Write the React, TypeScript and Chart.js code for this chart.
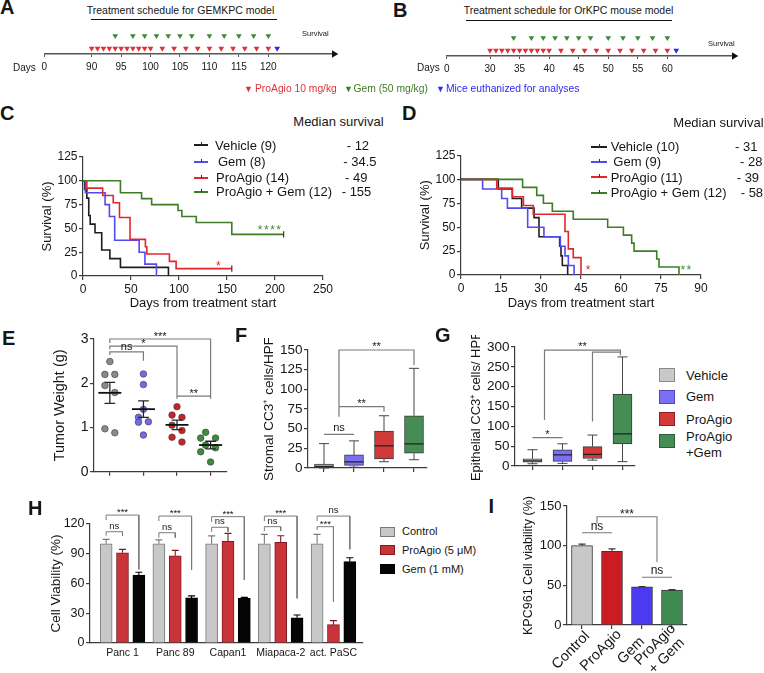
import React, { useEffect, useRef } from 'react';
import { Chart, registerables } from 'chart.js';

Chart.register(...registerables);

const FONT = "'Liberation Sans', Arial, Helvetica, sans-serif";
const INK = '#161616';
const AXIS = '#3c3c3c';
const BRACKET = '#7a7a7a';

// ===== A & B: treatment schedules =====
const A_TICK_DAYS = [0, 90, 95, 100, 105, 110, 115, 120];
const A_PROAGIO_DAYS = [90, 91, 92, 93, 94, 95, 96, 97, 98, 99, 100, 102, 104, 106, 108, 110, 112, 114, 116, 118, 120];
const A_GEM_DAYS = [94, 97, 99, 101, 103, 105, 107, 110, 112.5, 115, 117.5, 120];
const A_EUTH_DAYS = [121.5];
const B_TICK_DAYS = [0, 30, 35, 40, 45, 50, 55, 60];
const B_PROAGIO_DAYS = [30, 31, 32, 33, 34, 35, 36, 37, 38, 39, 40, 42, 44, 46, 48, 50, 52, 54, 56, 58, 60];
const B_GEM_DAYS = [34, 37, 39, 41, 43, 45, 47, 50, 52.5, 55, 57.5, 60];
const B_EUTH_DAYS = [61.5];

// ===== C: GEMKPC survival =====
const C_VEHICLE_DAYS = [0, 1.7, 4, 6, 7.5, 12.5, 19.5, 28, 39, 89];
const C_VEHICLE_SURV = [100, 90.9, 81.8, 63.6, 54.5, 45.5, 27.3, 18.2, 9.1, 0];
const C_GEM_DAYS = [0, 2.5, 23, 27.5, 33, 58.5, 64.5, 76.5];
const C_GEM_SURV = [100, 87.5, 75, 62.5, 37.5, 25, 12.5, 0];
const C_PROAGIO_DAYS = [0, 4, 20.5, 31.5, 38, 49, 65, 66.5, 90, 97, 155];
const C_PROAGIO_SURV = [100, 92.3, 84.6, 76.9, 61.5, 38.5, 30.8, 23.1, 15.4, 7.7, 7.7];
const C_COMBO_DAYS = [0, 39, 61, 71.5, 99, 103, 118, 155, 209];
const C_COMBO_SURV = [100, 87.5, 81.25, 75, 68.75, 62.5, 56.25, 43.75, 43.75];
const C_LEGEND = ['Vehicle (9)', 'Gem (8)', 'ProAgio (14)', 'ProAgio + Gem (12)'];
const C_MEDIANS = ['- 12', '- 34.5', '- 49', '- 155'];

// ===== D: OrKPC survival =====
const D_VEHICLE_DAYS = [0, 14, 19.25, 22.75, 27.4, 29.25, 37, 37.5, 38, 40];
const D_VEHICLE_SURV = [100, 90, 80, 70, 60, 40, 30, 20, 10, 0];
const D_GEM_DAYS = [0, 8.1, 15.25, 17.4, 25, 31.1, 37.25, 39, 40.25, 42.4];
const D_GEM_SURV = [100, 90, 80, 70, 50, 40, 30, 20, 10, 0];
const D_PROAGIO_DAYS = [0, 13.4, 19.25, 23.4, 27.1, 39, 40.25, 42.1, 45];
const D_PROAGIO_SURV = [100, 90.9, 81.8, 72.7, 63.6, 45.5, 27.3, 18.2, 0];
const D_COMBO_DAYS = [0, 23.1, 28.4, 30.9, 34.25, 42.1, 55, 60.9, 64, 64.9, 73.4, 74.25, 81.75];
const D_COMBO_SURV = [100, 91.7, 83.3, 75, 66.7, 58.3, 50, 41.7, 33.3, 25, 16.7, 8.3, 0];
const D_LEGEND = ['Vehicle (10)', 'Gem (9)', 'ProAgio (11)', 'ProAgio + Gem (12)'];
const D_MEDIANS = ['- 31', '- 28', '- 39', '- 58'];

// ===== E: tumor weight =====
const E_VEHICLE = [2.49, 2.2, 2.2, 1.95, 1.79, 0.97, 0.88];
const E_GEM = [2.21, 1.97, 1.41, 1.23, 1.13, 1.12, 0.83];
const E_PROAGIO = [1.47, 1.28, 1.23, 1.05, 0.93, 0.78, 0.67];
const E_COMBO = [0.89, 0.76, 0.76, 0.6, 0.54, 0.45, 0.22];
const E_BRACKETS = [
  { from: 0, to: 3, top: 3.0, armFrom: 2.91, armTo: 1.7, text: '***' },
  { from: 0, to: 2, top: 2.84, armFrom: 2.77, armTo: 1.68, text: '*' },
  { from: 0, to: 1, top: 2.71, armFrom: 2.64, armTo: 2.51, text: 'ns' },
  { from: 2, to: 3, top: 1.71, armFrom: 1.65, armTo: 1.65, text: '**' },
];

// ===== F & G: box plots =====
const BOX_GROUPS = ['Vehicle', 'Gem', 'ProAgio', 'ProAgio +Gem'];
const F_MIN = [0, 1, 8, 10.5];
const F_Q1 = [1.3, 3.4, 11.5, 18.7];
const F_MEDIAN = [2.1, 7.7, 28, 30.6];
const F_Q3 = [5.1, 16.6, 46.8, 66.4];
const F_MAX = [31, 34.5, 66.4, 126.7];
const F_BRACKETS = [
  { from: 0, to: 1, top: 42.8, armFrom: 42.8, armTo: 42.8, text: 'ns' },
  { from: 0.5, to: 2, top: 78, armFrom: 65, armTo: 71.6, text: '**' },
  { from: 0.5, to: 3, top: 150, armFrom: 65, armTo: 131, text: '**' },
];
const G_MIN = [5.7, 6.6, 14.8, 11];
const G_Q1 = [9.8, 11.5, 19, 55.7];
const G_MEDIAN = [13, 27.9, 29.5, 81];
const G_Q3 = [18, 41, 49, 181];
const G_MAX = [41, 56, 78, 275];
const G_BRACKETS = [
  { from: 0, to: 1, top: 71.4, armFrom: 71.4, armTo: 71.4, text: '*' },
  { from: 0.4, to: 2.93, top: 292, armFrom: 116, armTo: 282, text: '**' },
  { from: 2, to: 2.93, top: 287, armFrom: 112, armTo: 279, text: '' },
];

// ===== H: cell viability =====
const H_CELL_LINES = ['Panc 1', 'Panc 89', 'Capan1', 'Miapaca-2', 'act. PaSC'];
const H_CONTROL = [100, 100, 100, 100, 100];
const H_CONTROL_ERR = [4.5, 4, 8, 9.5, 9.5];
const H_PROAGIO = [91, 88, 102.5, 101.5, 18.5];
const H_PROAGIO_ERR = [3.4, 5.4, 8, 6.6, 4.1];
const H_GEM = [68.5, 45.5, 45, 25.5, 82];
const H_GEM_ERR = [2.9, 2, 1, 2.8, 4];
const H_SERIES = ['Control', 'ProAgio (5 μM)', 'Gem (1 mM)'];
const H_BRACKETS = [
  { g: 0, a: 0, b: 2, top: 129, armA: 124, armB: 74.3, text: '***' },
  { g: 0, a: 0, b: 1, top: 112.2, armA: 108.2, armB: 108.2, text: 'ns' },
  { g: 1, a: 0, b: 2, top: 128, armA: 123, armB: 73.6, text: '***' },
  { g: 1, a: 0, b: 1, top: 111.2, armA: 106.2, armB: 106.2, text: 'ns' },
  { g: 2, a: 0, b: 2, top: 127.4, armA: 122, armB: 63.5, text: '***' },
  { g: 2, a: 0, b: 1, top: 116.7, armA: 112.2, armB: 112.2, text: 'ns' },
  { g: 3, a: 0, b: 2, top: 128, armA: 123, armB: 45, text: '***' },
  { g: 3, a: 0, b: 1, top: 117.3, armA: 112.9, armB: 112.9, text: 'ns' },
  { g: 4, a: 0, b: 2, top: 128, armA: 123, armB: 94.5, text: 'ns' },
  { g: 4, a: 0, b: 1, top: 117.3, armA: 114, armB: 41.7, text: '***' },
];

// ===== I: KPC961 viability =====
const I_GROUPS = ['Control', 'ProAgio', 'Gem', ['ProAgio', '+ Gem']];
const I_VALUES = [100, 93, 48, 44];
const I_ERR = [2, 3, 0.6, 0.6];
const I_BRACKETS = [
  { from: 0, to: 1, top: 116.3, armFrom: 116.3, armTo: 116.3, text: 'ns' },
  { from: 0.5, to: 2.5, top: 136.5, armFrom: 128, armTo: 79, text: '***' },
  { from: 2, to: 3, top: 60.1, armFrom: 60.1, armTo: 60.1, text: 'ns' },
];

// ===== colours =====
const C_VEH = '#1e1e1e';
const C_GEMC = '#5549f2';
const C_PRO = '#e0282c';
const C_COMB = '#3e7d25';
const BOX_COLORS = ['#c9c9c9', '#7b70f4', '#d23a3a', '#458c55'];
const E_COLORS = ['#8a8a8a', '#726ae8', '#c8232b', '#3c8c3c'];
const H_COLORS = ['#c8c8c8', '#c9343a', '#050505'];
const H_BORDERS = ['#7a7a7a', '#7e1a1e', '#000000'];
const I_COLORS = ['#c8c8c8', '#cc1b22', '#4b3af0', '#3e8a50'];

type Box = { l: number; t: number; r: number; b: number };

const BASE = {
  responsive: false,
  animation: false,
  devicePixelRatio: 1,
  events: [],
  plugins: { legend: { display: false }, tooltip: { enabled: false } },
};

const fnt = (size: number, weight: any = 'normal') => ({ family: FONT, size, weight, lineHeight: 1.2 });

function padFor(box: Box, plot: Box, yW: number, xH: number) {
  return { left: plot.l - box.l - yW, top: plot.t - box.t, right: box.r - plot.r, bottom: box.b - plot.b - xH };
}

function valueAxis(o: any) {
  return {
    type: 'linear', position: 'left', min: o.min, max: o.max, bounds: 'data',
    ticks: { stepSize: o.step, font: fnt(o.size), color: INK, padding: o.pad ?? 1.5, autoSkip: false, maxRotation: 0 },
    grid: { drawOnChartArea: false, drawTicks: true, tickLength: 4, color: AXIS, lineWidth: 1.2, offset: false },
    border: { display: true, color: AXIS, width: 1.2 },
    title: { display: !!o.title, text: o.title, font: fnt(o.titleSize ?? 13), color: INK, padding: 0 },
    afterFit: (s: any) => { s.width = o.width; },
  };
}

function catAxis(o: any) {
  return {
    type: 'linear', position: 'bottom', min: o.min, max: o.max, bounds: 'data', offset: false,
    afterBuildTicks: (s: any) => { s.ticks = o.positions.map((v: number) => ({ value: v })); },
    ticks: {
      display: !!o.labels, callback: (_v: any, i: number) => (o.labels ? o.labels[i] : ''),
      font: fnt(o.size ?? 12), color: INK, padding: o.pad ?? 3, autoSkip: false,
      minRotation: 0, maxRotation: 0,
    },
    grid: { drawOnChartArea: false, drawTicks: (o.tickLen ?? 4) > 0, tickLength: o.tickLen ?? 4, color: AXIS, lineWidth: 1.2, offset: false },
    border: { display: true, color: AXIS, width: 1.2 },
    afterFit: (s: any) => { s.height = o.height; },
  };
}

function polyDataset(polys: number[][][], color: string, width: number, order = 0) {
  const data: any[] = [];
  polys.forEach((p, i) => {
    if (i) data.push({ x: p[0][0], y: null });
    p.forEach(([x, y]) => data.push({ x, y }));
  });
  return {
    type: 'line', data, borderColor: color, borderWidth: width, pointRadius: 0, fill: false,
    spanGaps: false, clip: false, order, tension: 0, showLine: true,
  };
}

const bracketPoly = (x1: number, x2: number, top: number, a1: number, a2: number) => [[x1, a1], [x1, top], [x2, top], [x2, a2]];

type Lbl = { x: number; y: number; text: string; color?: string; size?: number; off?: number; spacing?: number };
function labelPlugin(items: Lbl[]) {
  return {
    id: 'lbl',
    afterDatasetsDraw(chart: any) {
      const { ctx } = chart;
      const xs = chart.scales.x;
      const ys = chart.scales.y;
      items.forEach((it) => {
        if (!it.text) return;
        const size = it.size ?? 11;
        ctx.save();
        ctx.font = `${size}px ${FONT}`;
        ctx.fillStyle = it.color ?? INK;
        ctx.textAlign = 'center';
        ctx.textBaseline = 'alphabetic';
        if (it.spacing) (ctx as any).letterSpacing = `${it.spacing}px`;
        const k = it.text.includes('*') ? 0.57 : 0.26;
        ctx.fillText(it.text, xs.getPixelForValue(it.x), ys.getPixelForValue(it.y) + (it.off ?? 0) + k * size);
        ctx.restore();
      });
    },
  };
}

// rotated, centred category labels (panel I)
function rotatedLabelPlugin(labels: any[], size: number, dx: number, dy: number) {
  return {
    id: 'rotlbl',
    afterDraw(chart: any) {
      const { ctx } = chart;
      const xs = chart.scales.x;
      const y0 = chart.chartArea.bottom;
      const lh = size * 1.12;
      labels.forEach((lab, i) => {
        const lines = Array.isArray(lab) ? lab : [lab];
        ctx.save();
        ctx.translate(xs.getPixelForValue(i) + dx, y0 + dy);
        ctx.rotate(-Math.PI / 4);
        ctx.font = `${size}px ${FONT}`;
        ctx.fillStyle = INK;
        ctx.textAlign = 'center';
        ctx.textBaseline = 'middle';
        lines.forEach((t: string, j: number) => ctx.fillText(t, 0, (j - (lines.length - 1) / 2) * lh));
        ctx.restore();
      });
    },
  };
}

function bracketLabels(brs: any[], size: number, off: number, color = INK): Lbl[] {
  return brs.map((b) => ({ x: (b.from + b.to) / 2, y: b.top, text: b.text, size, off, color }));
}

// ---------- A/B timeline ----------
const ROW_PROAGIO = 0.19;
const ROW_GEM = 0.61;
function timelineConfig(o: any) {
  const xH = 24;
  const top = o.axisY - 30;
  const padding = { left: o.plotL - o.box.l, top: top - o.box.t, right: o.box.r - o.plotR, bottom: o.box.b - o.axisY - xH };
  const pos = (d: number) => (d === 0 ? o.zeroAt : d);
  const tri = (days: number[], row: number, color: string) => ({
    type: 'scatter', data: days.map((d) => ({ x: pos(d), y: row })), pointStyle: 'triangle', rotation: 180,
    pointRadius: 3.3, backgroundColor: color, borderColor: color, borderWidth: 0, clip: false,
  });
  return {
    type: 'scatter',
    data: {
      datasets: [
        tri(o.proagio, ROW_PROAGIO, '#dd3238'),
        tri(o.gem, ROW_GEM, '#3f8a3a'),
        tri(o.euth, ROW_PROAGIO, '#2a2af0'),
        { type: 'scatter', data: [{ x: o.arrowAt, y: 0 }], pointStyle: 'triangle', rotation: 90, pointRadius: 4.2, backgroundColor: '#111', borderWidth: 0, clip: false },
      ],
    },
    options: {
      ...BASE,
      layout: { padding },
      scales: {
        x: {
          type: 'linear', min: o.zeroAt, max: o.max, bounds: 'data',
          afterBuildTicks: (s: any) => { s.ticks = o.ticks.map((d: number) => ({ value: pos(d) })); },
          ticks: { callback: (_v: any, i: number) => String(o.ticks[i]), font: fnt(10), color: INK, padding: 4, autoSkip: false, maxRotation: 0, minRotation: 0 },
          grid: { drawOnChartArea: false, drawTicks: true, tickLength: 3, color: '#555', lineWidth: 1 },
          border: { display: true, color: '#555', width: 1.5 },
          afterFit: (s: any) => { s.height = xH; },
        },
        y: { display: false, min: 0, max: 1 },
      },
    },
  };
}

// ---------- survival ----------
function survivalConfig(o: any) {
  const yW = o.plot.l - o.yTitleX + 0.6 * 13;
  const xH = o.xTitleY - o.plot.b + 0.6 * 13;
  return {
    type: 'line',
    data: {
      datasets: [
        ...o.series.map((s: any, k: number) => ({
          data: s.days.map((d: number, i: number) => ({ x: d, y: s.surv[i] })),
          borderColor: s.color, borderWidth: 1.6, stepped: 'before', pointRadius: 0, fill: false, clip: false, order: 4 - k,
        })),
        {
          type: 'scatter', data: o.censor, pointStyle: 'line', rotation: 90, pointRadius: 3.2,
          borderColor: '#333', borderWidth: 1.2, clip: false, order: 0,
        },
      ],
    },
    options: {
      ...BASE,
      layout: { padding: padFor(o.box, o.plot, yW, xH) },
      scales: {
        x: {
          type: 'linear', position: 'bottom', min: 0, max: o.xMax, bounds: 'data',
          ticks: { stepSize: o.xStep, font: fnt(12), color: INK, padding: 2, autoSkip: false, maxRotation: 0 },
          grid: { drawOnChartArea: false, drawTicks: true, tickLength: 4, color: AXIS, lineWidth: 1.2 },
          border: { display: true, color: AXIS, width: 1.2 },
          title: { display: true, text: 'Days from treatment start', font: fnt(13), color: INK, padding: 0 },
          afterFit: (s: any) => { s.height = xH; },
        },
        y: valueAxis({ min: 0, max: 125, step: 25, size: 12, width: yW, title: 'Survival (%)', titleSize: 13 }),
      },
    },
    plugins: [labelPlugin(o.stars)],
  };
}

// ---------- E ----------
function swarmOffsets(values: number[], pxPerY: number, step: number, minDist: number): number[] {
  const idx = values.map((_, i) => i).sort((a, b) => values[b] - values[a]);
  const out = new Array(values.length).fill(0);
  const placed: { x: number; y: number }[] = [];
  let k = 0;
  while (k < idx.length) {
    let e = k;
    while (e + 1 < idx.length && (values[idx[e]] - values[idx[e + 1]]) * pxPerY < 8) e++;
    const cluster = idx.slice(k, e + 1);
    for (const i of cluster) {
      const y = values[i] * pxPerY;
      const cands = cluster.length === 1 ? [0, -step, step, -2 * step, 2 * step] : [-step, step, 0, -2 * step, 2 * step];
      let best = cands[0];
      for (const c of cands) {
        if (placed.every((p) => Math.hypot(p.x - c, p.y - y) >= minDist)) { best = c; break; }
      }
      out[i] = best;
      placed.push({ x: best, y });
    }
    k = e + 1;
  }
  return out;
}

function buildE() {
  const box = { l: 40, t: 320, r: 240, b: 485 };
  const plot = { l: 94, t: 339, r: 228, b: 473 };
  const xMin = -0.472, xMax = 3.48;
  const pxX = (plot.r - plot.l) / (xMax - xMin);
  const pxY = (plot.b - plot.t) / 3;
  const yW = plot.l - 60 + 0.6 * 14.5;
  const xH = 12;
  const groups = [E_VEHICLE, E_GEM, E_PROAGIO, E_COMBO];
  const datasets: any[] = [];
  const semPolys: number[][][] = [];
  const means: any[] = [];
  const cap = 5.4 / pxX;
  groups.forEach((vals, g) => {
    const offs = swarmOffsets(vals, pxY, 5, 7.5);
    datasets.push({
      type: 'scatter', data: vals.map((v, i) => ({ x: g + offs[i] / pxX, y: v })),
      pointRadius: 3.3, backgroundColor: E_COLORS[g], borderColor: '#3a3a3a', borderWidth: 0.6, clip: false, order: 5,
    });
    const n = vals.length;
    const m = vals.reduce((a, b) => a + b, 0) / n;
    const sd = Math.sqrt(vals.reduce((a, b) => a + (b - m) ** 2, 0) / (n - 1));
    const se = sd / Math.sqrt(n);
    semPolys.push([[g, m - se], [g, m + se]]);
    semPolys.push([[g - cap, m + se], [g + cap, m + se]]);
    semPolys.push([[g - cap, m - se], [g + cap, m - se]]);
    means.push({ x: g, y: m });
  });
  datasets.push(polyDataset(semPolys, '#262626', 1.3, 1));
  datasets.push({ type: 'scatter', data: means, pointStyle: 'line', pointRadius: 11.5, borderColor: '#111', borderWidth: 1.8, clip: false, order: 0 });
  datasets.push(polyDataset(E_BRACKETS.map((b) => bracketPoly(b.from, b.to, b.top, b.armFrom, b.armTo)), BRACKET, 1.2, 0));
  return {
    type: 'scatter',
    data: { datasets },
    options: {
      ...BASE,
      layout: { padding: padFor(box, plot, yW, xH) },
      scales: {
        x: catAxis({ min: xMin, max: xMax, positions: [0, 1, 2, 3], height: xH }),
        y: valueAxis({ min: 0, max: 3, step: 1, size: 14, width: yW, title: 'Tumor Weight (g)', titleSize: 14.5 }),
      },
    },
    plugins: [labelPlugin(bracketLabels(E_BRACKETS, 11, -5))],
  };
}

// ---------- F/G box plots ----------
function boxConfig(o: any) {
  const pxX = (o.plot.r - o.plot.l) / (o.xMax - o.xMin);
  const yW = o.plot.l - o.yTitleX + 0.6 * o.titleSize;
  const xH = 12;
  const n = o.q1.length;
  const whisk: number[][][] = [];
  const meds: number[][][] = [];
  const cap = 5 / pxX;
  const hw = 9.5 / pxX;
  for (let i = 0; i < n; i++) {
    whisk.push([[i, o.min[i]], [i, o.q1[i]]]);
    whisk.push([[i, o.q3[i]], [i, o.max[i]]]);
    whisk.push([[i - cap, o.min[i]], [i + cap, o.min[i]]]);
    whisk.push([[i - cap, o.max[i]], [i + cap, o.max[i]]]);
    meds.push([[i - hw, o.median[i]], [i + hw, o.median[i]]]);
  }
  return {
    type: 'bar',
    data: {
      datasets: [
        polyDataset(o.brackets.map((b: any) => bracketPoly(b.from, b.to, b.top, b.armFrom, b.armTo)), BRACKET, 1.2, 0),
        polyDataset(meds, '#222', 1.3, 1),
        {
          type: 'bar', data: o.q1.map((q: number, i: number) => ({ x: i, y: [q, o.q3[i]] })),
          backgroundColor: BOX_COLORS, borderColor: '#3a3a3a', borderWidth: 1, borderSkipped: false,
          barThickness: 19, grouped: false, order: 2,
        },
        polyDataset(whisk, '#444', 1, 3),
      ],
    },
    options: {
      ...BASE,
      layout: { padding: padFor(o.box, o.plot, yW, xH) },
      scales: {
        x: catAxis({ min: o.xMin, max: o.xMax, positions: [0, 1, 2, 3], height: xH }),
        y: valueAxis({ min: 0, max: o.yMax, step: o.yStep, size: 13.5, width: yW, title: o.title, titleSize: o.titleSize }),
      },
    },
    plugins: [labelPlugin(bracketLabels(o.brackets, 11, -6))],
  };
}

// ---------- H ----------
const H_BAR_OFFSET = 0.31;
function buildH() {
  const box = { l: 40, t: 500, r: 375, b: 665 };
  const plot = { l: 90, t: 524, r: 363, b: 643 };
  const xMin = -0.616, xMax = 4.56;
  const pxX = (plot.r - plot.l) / (xMax - xMin);
  const yW = plot.l - 56 + 0.6 * 13.5;
  const xH = 20;
  const series = [H_CONTROL, H_PROAGIO, H_GEM];
  const errs = [H_CONTROL_ERR, H_PROAGIO_ERR, H_GEM_ERR];
  const cap = 3.5 / pxX;
  const datasets: any[] = [];
  series.forEach((vals, s) => {
    const off = (s - 1) * H_BAR_OFFSET;
    datasets.push({
      type: 'bar', data: vals.map((v, g) => ({ x: g + off, y: v })), backgroundColor: H_COLORS[s], borderColor: H_BORDERS[s],
      borderWidth: 1, barThickness: 12, grouped: false, order: 3,
    });
    const polys: number[][][] = [];
    vals.forEach((v, g) => {
      const x = g + off;
      const e = v + errs[s][g];
      polys.push([[x, v], [x, e]]);
      polys.push([[x - cap, e], [x + cap, e]]);
    });
    datasets.push(polyDataset(polys, H_BORDERS[s], 1.1, 2));
  });
  const xb = (b: any, k: number) => b.g + (k - 1) * H_BAR_OFFSET;
  datasets.push(polyDataset(H_BRACKETS.map((b) => bracketPoly(xb(b, b.a), xb(b, b.b), b.top, b.armA, b.armB)), BRACKET, 1, 0));
  const labels: Lbl[] = H_BRACKETS.map((b) => ({ x: (xb(b, b.a) + xb(b, b.b)) / 2, y: b.top, text: b.text, size: 9.5, off: -5.5 }));
  return {
    type: 'bar',
    data: { datasets },
    options: {
      ...BASE,
      layout: { padding: padFor(box, plot, yW, xH) },
      scales: {
        x: catAxis({ min: xMin, max: xMax, positions: [0, 1, 2, 3, 4], labels: H_CELL_LINES, size: 10.5, height: xH, tickLen: 0, pad: 4 }),
        y: valueAxis({ min: 0, max: 120, step: 30, size: 12.5, width: yW, title: 'Cell Viability (%)', titleSize: 13.5 }),
      },
    },
    plugins: [labelPlugin(labels)],
  };
}

// ---------- I ----------
function buildI() {
  const box = { l: 505, t: 495, r: 705, b: 673 };
  const plot = { l: 567, t: 506, r: 687, b: 625 };
  const xMin = -0.5, xMax = 3.5;
  const pxX = (plot.r - plot.l) / (xMax - xMin);
  const yW = plot.l - 528.3 + 0.6 * 12.5;
  const xH = 48;
  const cap = 3.5 / pxX;
  const errPolys: number[][][] = [];
  I_VALUES.forEach((v, i) => {
    const e = v + I_ERR[i];
    errPolys.push([[i, v], [i, e]]);
    errPolys.push([[i - cap, e], [i + cap, e]]);
  });
  return {
    type: 'bar',
    data: {
      datasets: [
        polyDataset(I_BRACKETS.map((b) => bracketPoly(b.from, b.to, b.top, b.armFrom, b.armTo)), BRACKET, 1.1, 0),
        polyDataset(errPolys, '#333', 1.1, 1),
        {
          type: 'bar', data: I_VALUES.map((v, i) => ({ x: i, y: v })), backgroundColor: I_COLORS, borderColor: '#3a3a3a',
          borderWidth: 1, barThickness: 21, grouped: false, order: 2,
        },
      ],
    },
    options: {
      ...BASE,
      layout: { padding: padFor(box, plot, yW, xH) },
      scales: {
        x: catAxis({ min: xMin, max: xMax, positions: [0, 1, 2, 3], height: xH, tickLen: 4 }),
        y: valueAxis({ min: 0, max: 150, step: 50, size: 13, width: yW, title: 'KPC961 Cell viability (%)', titleSize: 12.5 }),
      },
    },
    plugins: [labelPlugin(bracketLabels(I_BRACKETS, 12, -6)), rotatedLabelPlugin(I_GROUPS, 14.5, -11, 25.5)],
  };
}

// ---------- React ----------
function ChartCanvas({ box, build }: { box: Box; build: () => any }) {
  const ref = useRef<HTMLCanvasElement>(null);
  useEffect(() => {
    const chart = new Chart(ref.current as HTMLCanvasElement, build());
    return () => chart.destroy();
  }, []);
  const w = box.r - box.l;
  const h = box.b - box.t;
  return (
    <div style={{ position: 'absolute', left: box.l, top: box.t, width: w, height: h }}>
      <canvas ref={ref} width={w} height={h} style={{ display: 'block', width: w, height: h }} />
    </div>
  );
}

function Txt({ x, cy, size = 13, color = INK, bold = false, center = false, children }: any) {
  const style: any = {
    position: 'absolute', left: x, top: cy - size * 0.5, fontSize: size, lineHeight: `${size}px`,
    fontFamily: FONT, fontWeight: bold ? 700 : 400, color, whiteSpace: 'nowrap',
  };
  if (center) style.transform = 'translateX(-50%)';
  return <div style={style}>{children}</div>;
}

const Letter = ({ x, capTop, children }: any) => <Txt x={x} cy={capTop + 7.2} size={20} bold>{children}</Txt>;

function LegendLine({ x1, x2, cy, color }: any) {
  const top = Math.round(cy - 1);
  return (
    <>
      <div style={{ position: 'absolute', left: Math.round(x1), top, width: Math.round(x2 - x1), height: 2, background: color }} />
      <div style={{ position: 'absolute', left: Math.round((x1 + x2) / 2), top: top - 2, width: 1, height: 3, background: '#333' }} />
    </>
  );
}

const A_BOX = { l: 30, t: 20, r: 350, b: 80 };
const B_BOX = { l: 430, t: 22, r: 760, b: 82 };
const C_BOX = { l: 20, t: 140, r: 355, b: 315 };
const D_BOX = { l: 400, t: 138, r: 764, b: 315 };
const E_BOX = { l: 40, t: 320, r: 240, b: 485 };
const F_BOX = { l: 255, t: 338, r: 440, b: 480 };
const G_BOX = { l: 462, t: 335, r: 650, b: 480 };
const H_BOX = { l: 40, t: 500, r: 375, b: 665 };
const I_BOX = { l: 505, t: 495, r: 705, b: 673 };

const buildA = () => timelineConfig({ box: A_BOX, plotL: 44.3, plotR: 332.7, axisY: 54, zeroAt: 81.96, max: 130.93, arrowAt: 131.17, ticks: A_TICK_DAYS, proagio: A_PROAGIO_DAYS, gem: A_GEM_DAYS, euth: A_EUTH_DAYS });
const buildB = () => timelineConfig({ box: B_BOX, plotL: 446.7, plotR: 731.7, axisY: 56, zeroAt: 22.67, max: 70.89, arrowAt: 71.3, ticks: B_TICK_DAYS, proagio: B_PROAGIO_DAYS, gem: B_GEM_DAYS, euth: B_EUTH_DAYS });

const buildC = () => survivalConfig({
  box: C_BOX, plot: { l: 83, t: 157, r: 323, b: 276 }, yTitleX: 47, xTitleY: 303.3, xMax: 250, xStep: 50,
  series: [
    { days: C_VEHICLE_DAYS, surv: C_VEHICLE_SURV, color: C_VEH },
    { days: C_GEM_DAYS, surv: C_GEM_SURV, color: C_GEMC },
    { days: C_PROAGIO_DAYS, surv: C_PROAGIO_SURV, color: C_PRO },
    { days: C_COMBO_DAYS, surv: C_COMBO_SURV, color: C_COMB },
  ],
  censor: [
    { x: C_PROAGIO_DAYS[C_PROAGIO_DAYS.length - 1], y: C_PROAGIO_SURV[C_PROAGIO_SURV.length - 1] },
    { x: C_COMBO_DAYS[C_COMBO_DAYS.length - 1], y: C_COMBO_SURV[C_COMBO_SURV.length - 1] },
  ],
  stars: [
    { x: 195, y: 51, text: '****', color: '#3f8a3a', size: 12, spacing: 1.5 },
    { x: 141, y: 13.3, text: '*', color: C_PRO, size: 12 },
  ],
});

const buildD = () => survivalConfig({
  box: D_BOX, plot: { l: 461, t: 155.5, r: 701, b: 275 }, yTitleX: 425.3, xTitleY: 303.3, xMax: 90, xStep: 15,
  series: [
    { days: D_VEHICLE_DAYS, surv: D_VEHICLE_SURV, color: C_VEH },
    { days: D_GEM_DAYS, surv: D_GEM_SURV, color: C_GEMC },
    { days: D_PROAGIO_DAYS, surv: D_PROAGIO_SURV, color: C_PRO },
    { days: D_COMBO_DAYS, surv: D_COMBO_SURV, color: C_COMB },
  ],
  censor: [],
  stars: [
    { x: 47.7, y: 8, text: '*', color: C_PRO, size: 12 },
    { x: 84.6, y: 8, text: '**', color: '#3f8a3a', size: 12, spacing: 1.5 },
  ],
});

const buildF = () => boxConfig({
  box: F_BOX, plot: { l: 308, t: 350, r: 427, b: 468 }, xMin: -0.533, xMax: 3.433, yMax: 150, yStep: 25,
  yTitleX: 269, titleSize: 13.5, title: 'Stromal CC3⁺ cells/HPF',
  min: F_MIN, q1: F_Q1, median: F_MEDIAN, q3: F_Q3, max: F_MAX, brackets: F_BRACKETS,
});

const buildG = () => boxConfig({
  box: G_BOX, plot: { l: 515, t: 347, r: 635, b: 466 }, xMin: -0.583, xMax: 3.417, yMax: 300, yStep: 50,
  yTitleX: 476.7, titleSize: 13, title: 'Epithelial CC3⁺ cells/ HPF',
  min: G_MIN, q1: G_Q1, median: G_MEDIAN, q3: G_Q3, max: G_MAX, brackets: G_BRACKETS,
});

const SURV_COLORS = [C_VEH, C_GEMC, C_PRO, C_COMB];

export default function App() {
  const cRows = [145, 161.7, 177.7, 191.7];
  const cTextX = [215, 218, 216, 216];
  const cValX = [346.7, 343.3, 345, 341.7];
  const dRows = [146.7, 161.7, 177.3, 192.7];
  const dTextX = [610.7, 613.3, 610.7, 610.7];
  const dValX = [735, 740, 736.7, 740.7];
  const gTops = [368, 389.5, 412, 433.5];
  const hTops = [527, 545, 564];
  const hText = [531.7, 550, 569.3];
  const gBorders = ['#8a8a8a', '#4e44c0', '#8c2020', '#2c5e38'];
  return (
    <div style={{ position: 'fixed', left: 0, top: 0, width: 764, height: 673, background: '#fff', overflow: 'hidden', fontFamily: FONT }}>
      <ChartCanvas box={A_BOX} build={buildA} />
      <ChartCanvas box={B_BOX} build={buildB} />
      <ChartCanvas box={C_BOX} build={buildC} />
      <ChartCanvas box={D_BOX} build={buildD} />
      <ChartCanvas box={E_BOX} build={buildE} />
      <ChartCanvas box={F_BOX} build={buildF} />
      <ChartCanvas box={G_BOX} build={buildG} />
      <ChartCanvas box={H_BOX} build={buildH} />
      <ChartCanvas box={I_BOX} build={buildI} />

      <Letter x={0} capTop={0}>A</Letter>
      <Letter x={393} capTop={3}>B</Letter>
      <Letter x={0} capTop={106}>C</Letter>
      <Letter x={402} capTop={106}>D</Letter>
      <Letter x={2} capTop={331}>E</Letter>
      <Letter x={235} capTop={328}>F</Letter>
      <Letter x={435} capTop={328}>G</Letter>
      <Letter x={28} capTop={501}>H</Letter>
      <Letter x={488.5} capTop={499}>I</Letter>

      <Txt x={180.5} cy={10} size={10.5} center>Treatment schedule for GEMKPC model</Txt>
      <div style={{ position: 'absolute', left: 91, top: 19, width: 186, height: 1.2, background: '#111' }} />
      <Txt x={568.5} cy={10} size={10.5} center>Treatment schedule for OrKPC mouse model</Txt>
      <div style={{ position: 'absolute', left: 466, top: 19.5, width: 206, height: 1.2, background: '#111' }} />
      <Txt x={13} cy={67.7} size={10}>Days</Txt>
      <Txt x={417} cy={68.3} size={10}>Days</Txt>
      <Txt x={302} cy={34} size={7.5}>Survival</Txt>
      <Txt x={708} cy={43.3} size={7.5}>Survival</Txt>

      <Txt x={244} cy={89} size={9} color="#dd3238">▼</Txt>
      <Txt x={255} cy={89} size={10.3} color="#dd3238">ProAgio 10 mg/kg</Txt>
      <Txt x={344} cy={89} size={9} color="#3f7d22">▼</Txt>
      <Txt x={353.5} cy={89} size={10.3} color="#3f7d22">Gem (50 mg/kg)</Txt>
      <Txt x={436} cy={89} size={9} color="#2a2af0">▼</Txt>
      <Txt x={446} cy={89} size={10.3} color="#2a2af0">Mice euthanized for analyses</Txt>

      <Txt x={293.3} cy={121.7} size={13}>Median survival</Txt>
      {C_LEGEND.map((t, i) => (
        <React.Fragment key={'c' + i}>
          <LegendLine x1={194} x2={208} cy={cRows[i]} color={SURV_COLORS[i]} />
          <Txt x={cTextX[i]} cy={cRows[i]} size={13}>{t}</Txt>
          <Txt x={cValX[i]} cy={cRows[i]} size={13}>{C_MEDIANS[i]}</Txt>
        </React.Fragment>
      ))}
      <Txt x={673.3} cy={122.7} size={13}>Median survival</Txt>
      {D_LEGEND.map((t, i) => (
        <React.Fragment key={'d' + i}>
          <LegendLine x1={590.7} x2={606.7} cy={dRows[i]} color={SURV_COLORS[i]} />
          <Txt x={dTextX[i]} cy={dRows[i]} size={13}>{t}</Txt>
          <Txt x={dValX[i]} cy={dRows[i]} size={13}>{D_MEDIANS[i]}</Txt>
        </React.Fragment>
      ))}

      {BOX_GROUPS.map((t, i) => (
        <React.Fragment key={'g' + i}>
          <div style={{ position: 'absolute', left: 659, top: gTops[i], width: 16, height: 14, background: BOX_COLORS[i], border: `1px solid ${gBorders[i]}`, boxSizing: 'border-box' }} />
          {i < 3 ? (
            <Txt x={686} cy={gTops[i] + 7} size={13}>{t}</Txt>
          ) : (
            <>
              <Txt x={686} cy={436.7} size={13}>ProAgio</Txt>
              <Txt x={686} cy={452.3} size={13}>+Gem</Txt>
            </>
          )}
        </React.Fragment>
      ))}

      {H_SERIES.map((t, i) => (
        <React.Fragment key={'h' + i}>
          <div style={{ position: 'absolute', left: 380, top: hTops[i], width: 15, height: 10, background: H_COLORS[i], border: `1px solid ${H_BORDERS[i]}`, boxSizing: 'border-box' }} />
          <Txt x={402} cy={hText[i]} size={11}>{t}</Txt>
        </React.Fragment>
      ))}
    </div>
  );
}
